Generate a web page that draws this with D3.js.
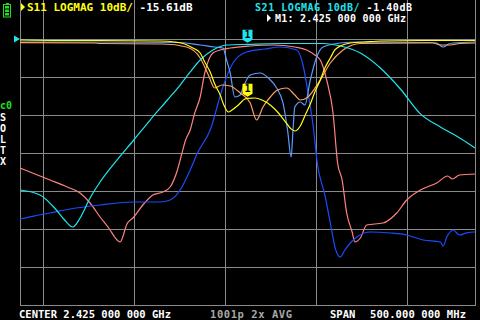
<!DOCTYPE html>
<html>
<head>
<meta charset="utf-8">
<script src="https://cdnjs.cloudflare.com/ajax/libs/d3/7.8.5/d3.min.js"></script>
<style>
body { margin: 0; background: #000; }
svg { display: block; }
text { font-family: "DejaVu Sans Mono", monospace; font-weight: bold; }
</style>
</head>
<body>
<div id="chart"></div>
<script>
// sweep: 2.175 .. 2.675 GHz, 10 dB/div, ref 0 dB
const freqDomain = [2175, 2675];
const freqTicks = [2200, 2300, 2400, 2500, 2600];
const dbTicks = [0, -10, -20, -30, -40, -50, -60, -70];

// [MHz, dB]
const s11 = [[2175,-0.26],[2219,-0.39],[2263,-0.39],[2329,-0.53],[2345,-0.79],[2356,-1.32],[2365,-2.37],
  [2373,-3.68],[2378,-6.05],[2384,-8.68],[2389,-11.84],[2395,-14.74],[2399,-17.37],[2404,-19.21],
  [2408,-18.68],[2415,-17.37],[2422,-15.79],[2425,-15.61],[2433,-15.53],[2441,-16.05],[2450,-17.37],
  [2458,-19.21],[2466,-21.58],[2473,-23.68],[2477,-24.21],[2483,-22.89],[2488,-20.26],[2494,-17.11],
  [2499,-13.95],[2505,-10.79],[2510,-7.63],[2516,-5.0],[2521,-2.89],[2527,-1.84],[2538,-1.05],
  [2554,-0.79],[2571,-0.53],[2615,-0.39],[2675,-0.39]];

const s21 = [[2175,-39.74],[2197,-41.05],[2213,-44.47],[2224,-47.63],[2233,-49.47],[2241,-47.11],
  [2252,-41.84],[2263,-37.63],[2279,-32.63],[2300,-26.58],[2318,-21.32],[2337,-16.05],[2351,-12.11],
  [2362,-8.68],[2373,-5.53],[2387,-2.89],[2402,-1.58],[2425,-1.40],[2461,-1.18],[2508,-1.18],
  [2527,-1.84],[2549,-3.68],[2571,-7.63],[2593,-13.16],[2615,-19.7],[2637,-23.16],[2660,-26.32],
  [2675,-28.68]];

const memPink = [[2175,-33.95],[2186,-35.0],[2208,-37.11],[2227,-38.95],[2241,-40.53],[2252,-43.16],
  [2263,-46.84],[2274,-50.26],[2279,-52.11],[2285,-53.42],[2293,-48.42],[2299,-47.11],[2310,-43.68],
  [2321,-41.05],[2332,-40.26],[2340,-38.95],[2348,-34.47],[2353,-30.0],[2357,-26.58],[2362,-23.95],
  [2367,-19.47],[2373,-15.26],[2378,-8.95],[2387,-3.68],[2395,-2.89],[2406,-2.37],[2428,-1.84],
  [2453,-1.58],[2477,-2.11],[2490,-2.89],[2499,-4.21],[2505,-5.53],[2512,-10.79],[2519,-19.47],
  [2524,-32.63],[2529,-37.11],[2534,-45.79],[2540,-50.79],[2543,-53.42],[2549,-52.37],[2556,-48.95],
  [2574,-48.42],[2589,-45.79],[2600,-42.37],[2615,-39.74],[2633,-37.89],[2645,-36.05],[2650,-36.84],
  [2658,-35.79],[2675,-35.53]];

const memBlue = [[2175,-47.37],[2190,-46.6],[2208,-45.79],[2230,-44.74],[2263,-43.68],[2299,-42.89],
  [2329,-42.89],[2340,-42.37],[2351,-39.74],[2362,-34.47],[2370,-30.0],[2384,-23.95],[2398,-12.63],
  [2409,-6.32],[2424,-3.42],[2444,-2.63],[2461,-2.11],[2479,-2.89],[2486,-6.84],[2491,-13.42],
  [2497,-22.63],[2502,-33.16],[2510,-41.05],[2516,-48.42],[2522,-55.53],[2527,-57.37],[2532,-55.53],
  [2538,-53.68],[2545,-52.11],[2560,-50.79],[2582,-51.05],[2600,-51.58],[2618,-52.89],[2637,-53.42],
  [2640,-54.5],[2644,-52.11],[2651,-50.26],[2658,-51.58],[2666,-51.0],[2675,-50.79]];

const memLight = [[2175,-0.79],[2263,-0.79],[2351,-0.92],[2373,-1.58],[2389,-2.11],[2398,-2.37],
  [2402,-5.53],[2406,-8.95],[2411,-15.26],[2417,-14.74],[2420,-12.89],[2428,-9.47],[2439,-8.95],
  [2448,-10.26],[2457,-12.89],[2464,-16.84],[2469,-23.95],[2473,-31.05],[2475,-23.95],[2477,-17.89],
  [2483,-16.58],[2488,-17.37],[2494,-10.79],[2501,-4.74],[2508,-2.11],[2527,-1.05],[2549,-0.79],
  [2626,-0.92],[2633,-1.05],[2640,-2.11],[2646,-1.32],[2651,-1.05],[2675,-0.79]];

const memOrange = [[2175,-0.97],[2257,-1.05],[2263,-1.18],[2332,-1.32],[2358,-2.11],[2373,-5.0],
  [2382,-9.47],[2389,-12.89],[2397,-12.11],[2406,-12.37],[2417,-14.21],[2428,-16.84],[2435,-21.32],
  [2442,-17.89],[2450,-15.26],[2458,-13.42],[2468,-12.89],[2477,-14.74],[2483,-16.05],[2490,-15.53],
  [2505,-10.79],[2516,-6.32],[2530,-2.89],[2549,-1.18],[2615,-1.05],[2629,-1.05],[2637,-1.58],
  [2648,-1.58],[2658,-1.18],[2675,-1.05]];

const markerFreq = 2425;
const s11MarkerDb = -15.61, s21MarkerDb = -1.40;

const W = 480, H = 320;
const svg = d3.select("#chart").append("svg").attr("width", W).attr("height", H);
svg.append("rect").attr("width", W).attr("height", H).attr("fill", "#000");

const x = d3.scaleLinear().domain(freqDomain).range([20, 475]);
const y = d3.scaleLinear().domain([10, -70]).range([1, 305]);

// grid
const grid = svg.append("g").attr("stroke", "#8a8a8a").attr("shape-rendering", "crispEdges");
freqDomain.concat(freqTicks).forEach(f => {
  grid.append("line").attr("x1", Math.round(x(f)) + 0.5).attr("x2", Math.round(x(f)) + 0.5)
    .attr("y1", 0).attr("y2", y(-70) + 0.5);
});
dbTicks.forEach(d => {
  grid.append("line").attr("x1", x(freqDomain[0])).attr("x2", x(freqDomain[1]) + 1)
    .attr("y1", y(d) + 0.5).attr("y2", y(d) + 0.5);
});

svg.append("clipPath").attr("id", "clip").append("rect")
  .attr("x", 20).attr("y", 0).attr("width", 456).attr("height", 306);

const line = d3.line().x(d => x(d[0])).y(d => y(d[1])).curve(d3.curveMonotoneX);
const traces = [
  { data: memPink, color: "#ff8282" },
  { data: memBlue, color: "#1a4cff" },
  { data: memLight, color: "#5a9cff" },
  { data: memOrange, color: "#ffa060" },
  { data: s21, color: "#1fe6ee" },
  { data: s11, color: "#ffff10" }
];
const tg = svg.append("g").attr("clip-path", "url(#clip)");
traces.forEach(t => {
  tg.append("path").attr("d", line(t.data)).attr("fill", "none")
    .attr("stroke", t.color).attr("stroke-width", 1.2);
});

// reference pointer
svg.append("path").attr("d", `M14,${y(0) - 3.5}L20,${y(0)}L14,${y(0) + 3.5}Z`).attr("fill", "#1fe6ee");

// markers
function marker(db, color) {
  const mx = x(markerFreq), tip = y(db) - 1.5;
  svg.append("path")
    .attr("d", `M${mx - 5},${tip - 13}h10v10l-5,3l-5,-3Z`)
    .attr("fill", color);
  svg.append("text").attr("x", mx).attr("y", tip - 4.5).attr("text-anchor", "middle")
    .attr("font-size", 10).attr("fill", "#000").text("1");
}
marker(s21MarkerDb, "#1fe6ee");
marker(s11MarkerDb, "#ffff10");

// header
svg.append("path").attr("d", "M21,3L25,7L21,11Z").attr("fill", "#ffff10");
const h1 = svg.append("text").attr("x", 27).attr("y", 11).attr("font-size", 11);
h1.append("tspan").attr("fill", "#ffff10").text("S11 LOGMAG 10dB/");
h1.append("tspan").attr("fill", "#fff").text(" " + s11MarkerDb.toFixed(2) + "dB");

const h2 = svg.append("text").attr("x", 255).attr("y", 11).attr("font-size", 10)
  .attr("textLength", 157).attr("lengthAdjust", "spacing");
h2.append("tspan").attr("fill", "#1fe6ee").text("S21 LOGMAG 10dB/");
h2.append("tspan").attr("fill", "#fff").text(" " + s21MarkerDb.toFixed(2) + "dB");

svg.append("path").attr("d", "M267,14L271,18L267,22Z").attr("fill", "#fff");
svg.append("text").attr("x", 275).attr("y", 22).attr("font-size", 10).attr("fill", "#fff")
  .attr("textLength", 131).attr("lengthAdjust", "spacing").text("M1: 2.425 000 000 GHz");

// battery
const bat = svg.append("g").attr("fill", "#1ee01e");
bat.append("rect").attr("x", 6).attr("y", 3).attr("width", 3).attr("height", 1);
bat.append("rect").attr("x", 3.5).attr("y", 4.5).attr("width", 7).attr("height", 12.5)
  .attr("fill", "none").attr("stroke", "#1ee01e");
[6, 9.5, 13].forEach(by => bat.append("rect").attr("x", 5).attr("y", by).attr("width", 4).attr("height", 2.5));

// calibration status
svg.append("text").attr("x", 0).attr("y", 109).attr("font-size", 10).attr("fill", "#1ee01e").text("c0");
["S", "O", "L", "T", "X"].forEach((c, i) => {
  svg.append("text").attr("x", 0).attr("y", 120.5 + i * 11).attr("font-size", 10).attr("fill", "#fff").text(c);
});

// footer
svg.append("text").attr("x", 19).attr("y", 318).attr("font-size", 10.5).attr("fill", "#fff")
  .attr("textLength", 152).attr("lengthAdjust", "spacing").text("CENTER 2.425 000 000 GHz");
svg.append("text").attr("x", 210).attr("y", 318).attr("font-size", 10.5).attr("fill", "#a8a8a8")
  .attr("textLength", 82).attr("lengthAdjust", "spacing").text("1001p 2x AVG");
svg.append("text").attr("x", 330).attr("y", 318).attr("font-size", 10.5).attr("fill", "#fff").text("SPAN");
svg.append("text").attr("x", 370).attr("y", 318).attr("font-size", 10.5).attr("fill", "#fff")
  .attr("textLength", 96).attr("lengthAdjust", "spacing").text("500.000 000 MHz");
</script>
</body>
</html>
